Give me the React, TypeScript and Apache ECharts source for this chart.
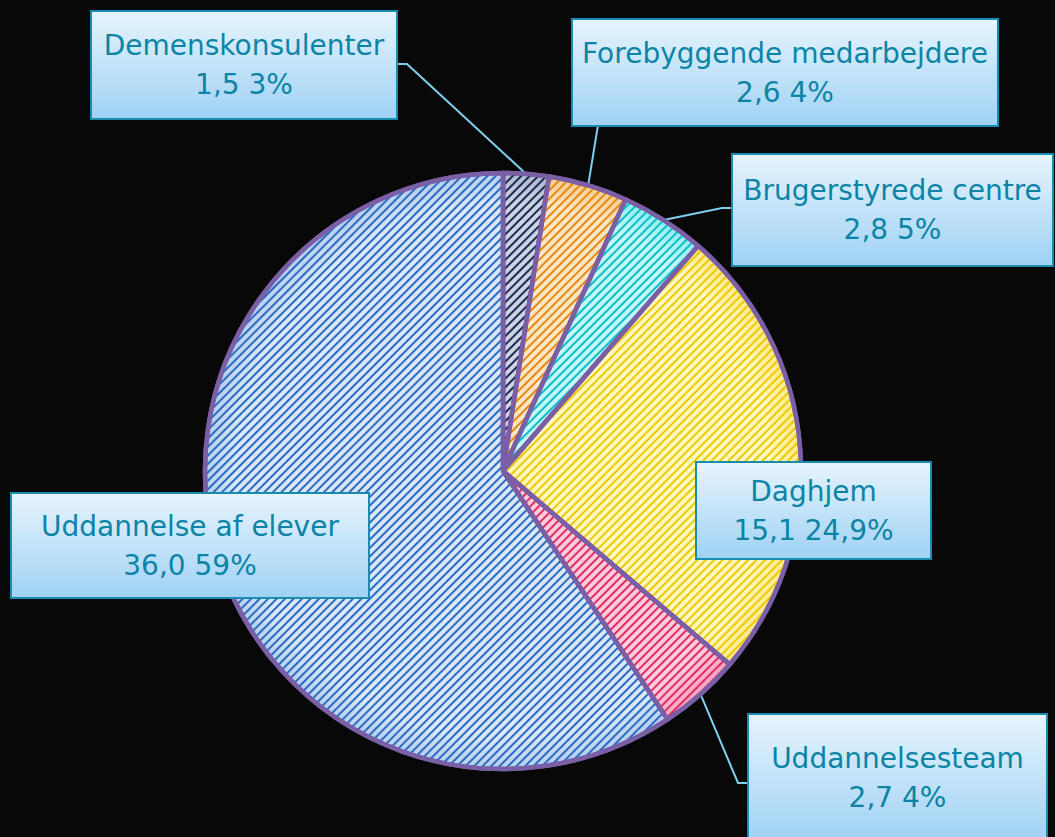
import React, { useEffect, useRef } from "react";
import * as echarts from "echarts";

const categories = [
  "Demenskonsulenter",
  "Forebyggende medarbejdere",
  "Brugerstyrede centre",
  "Daghjem",
  "Uddannelsesteam",
  "Uddannelse af elever",
];
const values = [1.5, 2.6, 2.8, 15.1, 2.7, 36.0];
const percentLabels = ["3%", "4%", "5%", "24,9%", "4%", "59%"];

const fillColors = ["#ccd3e2", "#fde6c6", "#c2f8f8", "#fff8c0", "#fdcddb", "#d9e7f8"];
const edgeColors = ["#aeb8cc", "#f9cc90", "#8eeef0", "#fbe98a", "#f7a3bc", "#b5cdef"];
const stripeColors = ["#1d2a52", "#e38a14", "#10bcc6", "#f0c800", "#e22a64", "#2a6cc0"];

const labelBoxes = [
  { x: 92, y: 12, w: 304, h: 106, side: "right", lineAt: 52 },
  { x: 573, y: 20, w: 424, h: 105, side: "bottom", lineAt: 25 },
  { x: 733, y: 155, w: 319, h: 110, side: "left", lineAt: 53 },
  { x: 697, y: 463, w: 233, h: 95, side: "none", lineAt: 0 },
  { x: 749, y: 715, w: 297, h: 126, side: "left", lineAt: 68 },
  { x: 12, y: 494, w: 356, h: 103, side: "none", lineAt: 0 },
];

const CX = 503;
const CY = 471;
const R = 298;
const LINE_H = 39;

function fmt(v: number) {
  return v.toFixed(1).replace(".", ",");
}

export default function App() {
  const ref = useRef<HTMLDivElement>(null);
  useEffect(() => {
    if (!ref.current) return;
    const chart = echarts.init(ref.current, null, { renderer: "svg" });
    const data = categories.map((name, i) => {
      const b = labelBoxes[i];
      const pad = (b.h - 2 * LINE_H) / 2;
      return {
        name,
        value: values[i],
        itemStyle: {
          color: new echarts.graphic.RadialGradient(
            CX,
            CY,
            R,
            [
              { offset: 0, color: fillColors[i] },
              { offset: 0.9, color: fillColors[i] },
              { offset: 1, color: edgeColors[i] },
            ],
            true
          ),
          decal: {
            symbol: "rect",
            symbolSize: 1,
            color: stripeColors[i],
            dashArrayX: [1, 0],
            dashArrayY: [1.1, 3.2],
            rotation: -Math.PI / 4,
          },
        },
        label: {
          width: b.w,
          padding: [pad, 0, pad, 0],
        },
        labelLine: { show: b.side !== "none" },
      };
    });
    chart.setOption({
      animation: false,
      backgroundColor: "#080808",
      series: [
        {
          type: "pie",
          center: [CX, CY],
          radius: [0, R],
          startAngle: 90,
          clockwise: true,
          avoidLabelOverlap: false,
          silent: true,
          data,
          itemStyle: {
            borderColor: "#7a5fa6",
            borderWidth: 4.5,
          },
          label: {
            show: true,
            position: "outside",
            formatter: (p: any) =>
              `${p.name}\n${fmt(p.value)} ${percentLabels[p.dataIndex]}`,
            fontFamily: "DejaVu Sans",
            fontSize: 28,
            lineHeight: LINE_H,
            color: "#0b84a5",
            align: "center",
            backgroundColor: new echarts.graphic.LinearGradient(0, 0, 0, 1, [
              { offset: 0, color: "#e6f4fe" },
              { offset: 1, color: "#a0d2f4" },
            ]),
            borderColor: "#1a8cb0",
            borderWidth: 2,
          },
          labelLine: {
            show: true,
            lineStyle: { color: "#7fd0ee", width: 2 },
          },
          labelLayout: (params: any) => {
            const b = labelBoxes[params.dataIndex];
            const out: any = {
              x: b.x + b.w / 2,
              y: b.y + b.h / 2,
              align: "center",
              verticalAlign: "middle",
            };
            const pts = params.labelLinePoints;
            if (pts && pts.length && b.side !== "none") {
              const a = pts[0];
              let end: number[];
              let elbow: number[];
              if (b.side === "right") {
                end = [b.x + b.w, b.y + b.lineAt];
                elbow = [end[0] + 11, end[1]];
              } else if (b.side === "left") {
                end = [b.x, b.y + b.lineAt];
                elbow = [end[0] - 11, end[1]];
              } else {
                end = [b.x + b.lineAt, b.y + b.h];
                elbow = [end[0], end[1]];
              }
              out.labelLinePoints = [[a[0], a[1]], elbow, end];
            }
            return out;
          },
          emphasis: { disabled: true },
        },
      ],
    });
    return () => chart.dispose();
  }, []);
  return (
    <div
      ref={ref}
      style={{ position: "absolute", left: 0, top: 0, width: 1055, height: 837 }}
    />
  );
}
